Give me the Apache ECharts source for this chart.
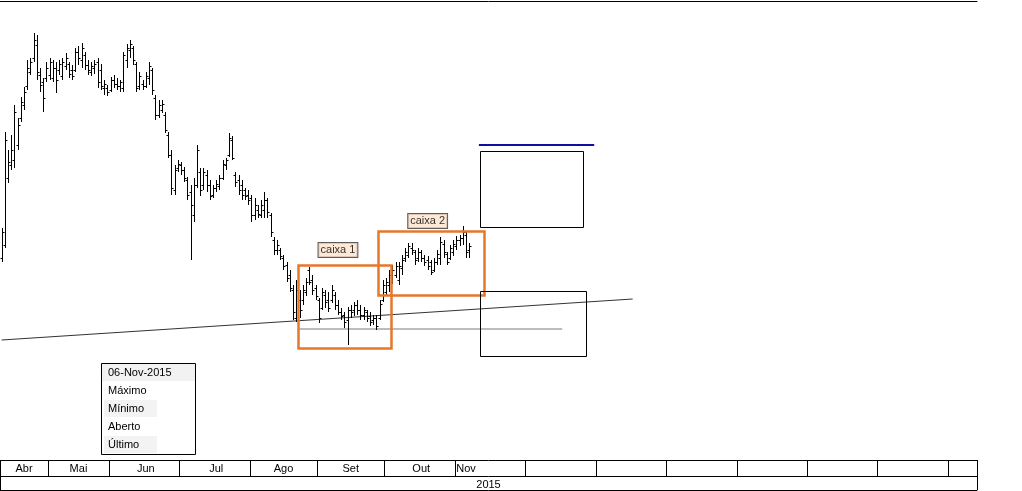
<!DOCTYPE html>
<html>
<head>
<meta charset="utf-8">
<script src="https://cdn.jsdelivr.net/npm/echarts@6/dist/echarts.min.js"></script>
<style>
  html, body { margin: 0; padding: 0; background: #fff; }
  #chart { width: 1022px; height: 491px; }
</style>
</head>
<body>
<div id="chart"></div>
<script>
// meses do eixo (células da régua inferior) e nº de pregões em cada uma
const monthNames = ['Abr', 'Mai', 'Jun', 'Jul', 'Ago', 'Set', 'Out', 'Nov', 'Dez', 'Jan', 'Fev', 'Mar', 'Abr', 'Mai', 'Jun']
const monthLabels = ['Abr', 'Mai', 'Jun', 'Jul', 'Ago', 'Set', 'Out', 'Nov', '', '', '', '', '', '', '']
const monthDays = [15, 19, 22, 22, 21, 21, 22, 22, 22, 22, 22, 22, 22, 22, 9]
const yearLabel = '2015'

// OHLC diário (abr -> 06-nov-2015)
const highs = [23.2, 32.8, 31.0, 32.5, 35.5, 34.2, 36.3, 37.3, 40.0, 40.2, 42.7, 42.5, 39.2, 38.2, 39.8, 40.2, 40.0, 39.8, 40.0, 40.2,
  40.7, 39.8, 39.5, 41.2, 41.4, 41.7, 40.8, 40.0, 39.8, 40.0, 40.2, 39.6, 38.0, 37.5, 38.3, 38.5, 38.2, 38.0, 40.8, 41.6,
  42.0, 41.4, 39.8, 38.8, 38.0, 38.8, 39.8, 39.2, 36.5, 36.0, 36.0, 34.8, 32.8, 31.0, 29.5, 30.0, 29.8, 29.3, 28.3, 27.5,
  28.2, 31.5, 29.2, 29.2, 29.0, 28.0, 27.5, 28.0, 28.5, 30.0, 30.2, 32.7, 32.4, 28.8, 28.5, 28.0, 27.2, 27.0, 26.5, 26.2,
  25.5, 26.0, 26.8, 26.2, 24.7, 22.3, 22.0, 21.2, 20.5, 19.8, 19.0, 17.5, 18.0, 17.0, 17.5, 18.2, 19.3, 18.5, 17.5, 16.2,
  17.2, 17.0, 16.8, 17.5, 16.8, 16.0, 15.2, 14.8, 15.3, 15.5, 15.8, 16.0, 15.5, 15.3, 15.0, 14.8, 14.5, 14.5, 16.0, 18.0,
  18.2, 19.0, 19.5, 19.8, 19.8, 20.5, 21.2, 21.7, 21.7, 21.0, 21.2, 21.0, 20.5, 20.4, 20.0, 20.2, 21.0, 22.3, 22.0, 20.8,
  21.5, 22.0, 22.4, 22.5, 23.4, 22.8, 21.7]
const lows = [19.8, 21.2, 27.7, 29.0, 29.2, 31.0, 33.8, 35.0, 37.0, 38.5, 39.8, 38.0, 36.8, 34.8, 37.8, 38.0, 37.8, 36.7, 38.5, 38.0,
  39.0, 38.2, 38.0, 38.8, 39.5, 39.2, 39.0, 38.5, 38.4, 38.6, 37.2, 37.0, 36.5, 36.4, 36.8, 37.2, 37.0, 36.8, 36.8, 39.2,
  40.2, 39.5, 36.8, 37.0, 37.0, 37.2, 37.5, 36.5, 34.0, 34.2, 34.7, 32.7, 30.2, 26.5, 26.5, 28.8, 28.5, 27.8, 26.0, 20.0,
  23.8, 27.2, 26.4, 27.0, 26.8, 26.0, 26.2, 26.8, 27.0, 28.0, 29.0, 30.3, 30.0, 27.3, 26.5, 26.0, 26.0, 25.5, 23.8, 24.0,
  24.2, 24.2, 24.2, 24.2, 22.3, 20.5, 20.5, 20.0, 19.0, 17.8, 16.8, 14.0, 13.8, 14.2, 15.5, 16.4, 17.5, 16.5, 16.0, 13.7,
  15.0, 15.2, 14.8, 15.7, 15.0, 14.5, 14.0, 13.2, 11.5, 14.2, 14.4, 14.5, 14.0, 14.0, 13.8, 13.4, 13.5, 13.0, 14.0, 15.8,
  16.4, 16.8, 17.6, 18.2, 17.5, 18.5, 19.8, 20.2, 20.5, 19.5, 19.8, 19.8, 19.4, 19.0, 18.5, 18.8, 19.5, 19.5, 20.2, 19.5,
  20.0, 20.4, 21.0, 21.4, 21.5, 20.2, 20.2]
const opens = [20.2, 21.5, 28.2, 29.5, 30.0, 31.5, 34.2, 35.5, 37.4, 38.8, 40.2, 41.5, 38.5, 37.8, 38.2, 38.5, 38.2, 39.2, 39.0, 38.4,
  39.4, 39.6, 39.0, 39.0, 40.8, 40.0, 40.5, 39.5, 38.8, 39.2, 39.8, 39.0, 37.2, 37.2, 37.0, 38.0, 37.6, 37.4, 37.2, 40.0,
  41.0, 41.2, 39.6, 37.4, 37.6, 37.4, 38.2, 39.0, 36.2, 34.5, 35.0, 34.5, 32.5, 30.5, 27.0, 29.2, 29.5, 29.0, 28.0, 26.8,
  24.5, 27.5, 28.8, 27.5, 28.5, 27.5, 26.5, 27.2, 27.4, 28.2, 29.5, 30.5, 32.0, 28.5, 28.0, 27.5, 27.0, 26.5, 26.2, 24.5,
  25.0, 24.5, 25.0, 26.0, 24.5, 22.0, 21.0, 21.0, 20.2, 19.5, 18.5, 17.0, 14.2, 16.0, 16.0, 16.8, 19.0, 18.0, 17.2, 16.0,
  15.2, 16.5, 16.0, 16.0, 16.5, 15.5, 14.8, 14.5, 14.0, 15.0, 15.0, 15.5, 15.0, 14.5, 14.8, 14.4, 14.0, 14.2, 14.2, 16.0,
  16.8, 17.5, 17.8, 18.5, 18.0, 19.2, 20.2, 20.5, 21.2, 20.8, 20.2, 20.8, 20.2, 20.0, 19.8, 19.0, 19.8, 20.2, 21.6, 20.6,
  20.2, 20.8, 21.4, 22.0, 22.2, 22.5, 21.0]
const closes = [22.8, 32.0, 29.8, 31.0, 34.8, 33.5, 35.8, 36.8, 39.2, 39.8, 42.0, 38.8, 37.5, 36.2, 39.2, 39.8, 39.2, 38.0, 39.6, 39.8,
  40.2, 38.6, 38.4, 40.8, 40.2, 41.2, 39.5, 39.0, 39.4, 39.6, 37.8, 37.4, 37.6, 36.8, 38.0, 37.6, 37.4, 37.8, 40.5, 41.2,
  41.6, 40.0, 37.2, 38.4, 37.4, 38.4, 39.4, 37.0, 34.5, 35.5, 35.6, 33.0, 30.5, 27.2, 29.0, 29.6, 29.0, 28.2, 26.5, 25.5,
  27.5, 31.0, 27.0, 28.8, 27.5, 26.4, 27.2, 27.6, 28.2, 29.6, 30.0, 32.2, 30.2, 27.8, 27.0, 26.5, 26.4, 26.0, 24.5, 25.5,
  24.6, 25.5, 26.0, 24.8, 22.8, 21.0, 21.5, 20.4, 19.4, 18.2, 17.2, 14.8, 17.0, 15.0, 17.0, 17.8, 17.8, 17.0, 16.4, 14.2,
  16.8, 15.8, 15.2, 17.0, 15.5, 14.8, 14.4, 13.8, 15.0, 14.8, 15.5, 15.0, 14.5, 15.0, 14.2, 13.8, 14.2, 13.4, 15.6, 17.5,
  17.8, 18.5, 19.0, 19.4, 19.4, 20.0, 20.8, 21.4, 21.0, 20.0, 20.8, 20.2, 19.8, 19.4, 18.8, 19.8, 20.6, 21.8, 20.8, 19.8,
  21.2, 21.6, 22.0, 22.2, 22.8, 20.8, 21.4]

// anotações: [índice inicial, preço, índice final, preço]
const orangeBoxes = [[93, 19.5, 122, 11.2], [118, 22.9, 151, 16.5]]
const blackBoxes = [[150, 30.9, 182, 23.3], [150, 16.9, 183, 10.4]]
const trendLine = [[0, 12.0], [197, 16.1]]
const supportLine = [[93, 13.1], [175, 13.1]]
const targetLine = [[149, 31.5], [185, 31.5]]
const boxLabels = [{ name: 'caixa 1', value: [105, 21.0] }, { name: 'caixa 2', value: [133, 23.9] }]

const infoRows = ['06-Nov-2015', 'Máximo', 'Mínimo', 'Aberto', 'Último']

// categorias diárias a partir dos meses
const categories = []
const monthStarts = []
const labelAt = {}
monthNames.forEach((m, k) => {
  monthStarts.push(categories.length)
  // o mês corrente (Nov) tem o rótulo junto ao início da célula
  const off = k === 7 ? 3 : Math.floor(monthDays[k] / 2)
  labelAt[categories.length + off] = monthLabels[k]
  for (let d = 1; d <= monthDays[k]; d++) categories.push(m + ' ' + d + ' #' + k)
})
const yearLabelIndex = Math.floor(categories.length / 2)

const ohlc = opens.map((o, i) => [i, o, highs[i], lows[i], closes[i]])

const FONT = "'Liberation Sans', Arial, sans-serif"
const crisp = (v) => Math.round(v) + 0.5

const chart = echarts.init(document.getElementById('chart'))

const renderBar = (params, api) => {
  const idx = api.value(0)
  const x = crisp(api.coord([idx, 0])[0])
  const yo = crisp(api.coord([idx, api.value(1)])[1])
  const yh = api.coord([idx, api.value(2)])[1]
  const yl = api.coord([idx, api.value(3)])[1]
  const yc = crisp(api.coord([idx, api.value(4)])[1])
  const st = { stroke: '#000', lineWidth: 1 }
  return {
    type: 'group',
    children: [
      { type: 'line', shape: { x1: x, y1: Math.round(yh), x2: x, y2: Math.round(yl) }, style: st },
      { type: 'line', shape: { x1: x - 2, y1: yo, x2: x, y2: yo }, style: st },
      { type: 'line', shape: { x1: x, y1: yc, x2: x + 2, y2: yc }, style: st }
    ]
  }
}

const boxRenderer = (color, width) => (params, api) => {
  const p1 = api.coord([api.value(0), api.value(1)])
  const p2 = api.coord([api.value(2), api.value(3)])
  return {
    type: 'rect',
    shape: { x: Math.round(p1[0]) - 1.5, y: Math.round(p1[1]) + 0.5, width: Math.round(p2[0] - p1[0]), height: Math.round(p2[1] - p1[1]) },
    style: { fill: 'none', stroke: color, lineWidth: width }
  }
}

const lineSeries = (data, color, width) => ({
  type: 'line',
  data: data,
  symbol: 'none',
  silent: true,
  lineStyle: { color: color, width: width },
  z: 3
})

const option = {
  animation: false,
  backgroundColor: '#fff',
  grid: { left: 0, right: 45, top: 1, bottom: 31 },
  xAxis: [
    {
      type: 'category',
      data: categories,
      position: 'bottom',
      axisLine: { lineStyle: { color: '#000', width: 1 } },
      axisTick: {
        show: true,
        interval: (i) => monthStarts.indexOf(i) >= 0,
        length: 16,
        lineStyle: { color: '#000' }
      },
      axisLabel: {
        interval: (i) => labelAt[i] !== undefined,
        formatter: (v, i) => labelAt[i] || '',
        margin: 3,
        color: '#000',
        fontSize: 11,
        fontFamily: FONT
      },
      splitLine: { show: false }
    },
    {
      type: 'category',
      data: categories,
      position: 'bottom',
      offset: 16,
      axisLine: { lineStyle: { color: '#000', width: 1 } },
      axisTick: { show: true, interval: (i) => i === 0, length: 14, lineStyle: { color: '#000' } },
      axisLabel: {
        interval: (i) => i === yearLabelIndex,
        formatter: () => yearLabel,
        margin: 3,
        color: '#000',
        fontSize: 11,
        fontFamily: FONT
      }
    },
    {
      type: 'category',
      data: categories,
      position: 'bottom',
      offset: 30,
      axisLine: { lineStyle: { color: '#000', width: 1 } },
      axisTick: { show: false },
      axisLabel: { show: false }
    },
    {
      type: 'category',
      data: categories,
      position: 'top',
      axisLine: { lineStyle: { color: '#000', width: 1 } },
      axisTick: { show: false },
      axisLabel: { show: false }
    }
  ],
  yAxis: {
    type: 'value',
    min: 0,
    max: 45.9,
    show: false,
    splitLine: { show: false }
  },
  series: [
    lineSeries(trendLine, '#333', 1),
    lineSeries(supportLine, '#7a7a7a', 1),
    lineSeries(targetLine, '#1010a0', 2),
    {
      type: 'custom',
      name: 'preço',
      renderItem: renderBar,
      data: ohlc,
      encode: { x: 0, y: [1, 2, 3, 4] },
      z: 4
    },
    {
      type: 'custom',
      renderItem: boxRenderer('#e8772a', 2.5),
      data: orangeBoxes,
      silent: true,
      z: 5
    },
    {
      type: 'custom',
      renderItem: boxRenderer('#000', 1),
      data: blackBoxes,
      silent: true,
      z: 5
    },
    {
      type: 'scatter',
      data: boxLabels,
      symbolSize: 0,
      silent: true,
      z: 6,
      label: {
        show: true,
        position: 'inside',
        formatter: '{b}',
        color: '#000',
        fontSize: 11,
        fontFamily: FONT,
        backgroundColor: '#fde4cc',
        borderColor: '#333',
        borderWidth: 1,
        padding: [1, 2, 0, 2],
        lineHeight: 13
      }
    }
  ],
  graphic: [
    {
      type: 'group',
      left: 101,
      top: 363,
      children: [
        { type: 'rect', shape: { x: 0.5, y: 0.5, width: 94, height: 91 }, style: { fill: '#fff', stroke: '#000', lineWidth: 1 } },
        { type: 'rect', shape: { x: 1, y: 1, width: 93, height: 17 }, style: { fill: '#f2f2f2' } },
        { type: 'rect', shape: { x: 3, y: 37, width: 53, height: 17 }, style: { fill: '#f3f3f3' } },
        { type: 'rect', shape: { x: 3, y: 73, width: 53, height: 17 }, style: { fill: '#f3f3f3' } }
      ].concat(infoRows.map((t, k) => ({
        type: 'text',
        x: 7,
        y: 9.5 + k * 18.2,
        style: { text: t, fill: '#000', font: '11px ' + FONT, textVerticalAlign: 'middle' }
      })))
    }
  ]
}

chart.setOption(option)
</script>
</body>
</html>
